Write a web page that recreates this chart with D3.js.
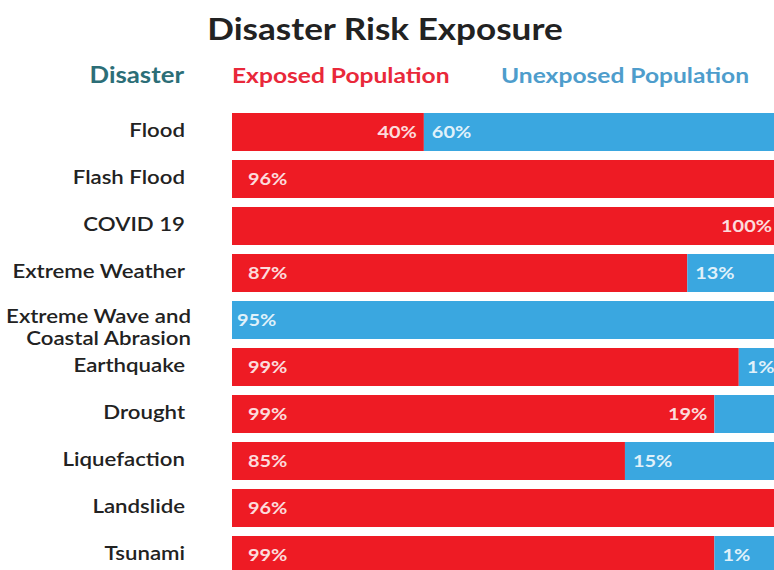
<!DOCTYPE html>
<html>
<head>
<meta charset="utf-8">
<script src="https://cdn.jsdelivr.net/npm/d3@7"></script>
<style>
  html, body { margin: 0; padding: 0; background: #fff; }
  svg { display: block; }
  text { font-family: Lato, "Open Sans", sans-serif; }
</style>
</head>
<body>
<svg id="chart" width="774" height="570"></svg>
<script>
// ---- data ----
const categories = ["Flood", "Flash Flood", "COVID 19", "Extreme Weather", "Extreme Wave and\nCoastal Abrasion",
  "Earthquake", "Drought", "Liquefaction", "Landslide", "Tsunami"];
// drawn length of the red (exposed) segment, as share of the visible bar width
const exposedBar = [35.4, 100, 100, 84, 0, 93.5, 89, 72.5, 100, 89];
// printed labels (as shown on the original infographic)
const exposedLabels = ["40%", "96%", "100%", "87%", "", "99%", "99%", "85%", "96%", "99%"];
const unexposedLabels = ["60%", "", "", "13%", "95%", "1%", "19%", "15%", "", "1%"];
const headers = ["Disaster", "Exposed Population", "Unexposed Population"];
const title = "Disaster Risk Exposure";

// ---- layout ----
const barLeft = 232, barRight = 774;
const svg = d3.select("#chart");
const RED = "#ee1b24", BLUE = "#3aa7e0";
const SX = 1.17; // horizontal stretch of the lettering in the original

const x = d3.scaleLinear().domain([0, 100]).range([barLeft, barRight]);
const y = d3.scaleBand().domain(categories).range([113, 574]).paddingInner(0.1915).paddingOuter(0);

const rows = categories.map((c, i) => ({
  cat: c, exp: exposedBar[i], un: 100 - exposedBar[i],
  expLabel: exposedLabels[i], unLabel: unexposedLabels[i], i
}));

// helper: text stretched horizontally around its anchor point
function stext(px, py, anchor) {
  return svg.append("g").attr("transform", `translate(${px},${py}) scale(${SX},1)`)
    .append("text").attr("x", 0).attr("y", 0).attr("text-anchor", anchor);
}

// title
stext(385, 40, "middle").attr("font-size", 30).attr("font-weight", 700).attr("fill", "#222").text(title);

// headers
const headerX = [[184, "end", "#2c6e77", 22], [232, "start", "#e9283a", 21], [501, "start", "#4e9dcc", 21]];
headers.forEach((h, i) => {
  stext(headerX[i][0], 83, headerX[i][1]).attr("font-size", headerX[i][3]).attr("font-weight", 700)
    .attr("fill", headerX[i][2]).text(h);
});

// bars
const g = svg.append("g");
g.selectAll("rect.exp").data(rows).join("rect").attr("class", "exp")
  .attr("x", x(0)).attr("y", d => y(d.cat))
  .attr("width", d => x(d.exp) - x(0)).attr("height", y.bandwidth()).attr("fill", RED);
g.selectAll("rect.un").data(rows).join("rect").attr("class", "un")
  .attr("x", d => x(d.exp)).attr("y", d => y(d.cat))
  .attr("width", d => x(100) - x(d.exp)).attr("height", y.bandwidth()).attr("fill", BLUE);

// category labels
rows.forEach(d => {
  const lines = d.cat.split("\n");
  const cy = y(d.cat) + y.bandwidth() / 2;
  if (lines.length === 1) {
    stext(185, cy + 5, "end").attr("font-size", 19).attr("font-weight", 600).attr("fill", "#222").text(lines[0]);
  } else {
    lines.forEach((ln, k) => {
      stext(191, cy + 3 + (k === 0 ? 0 : 22), "end").attr("font-size", 19).attr("font-weight", 600)
        .attr("fill", "#222").text(ln);
    });
  }
});

// value labels
const labelStyle = s => s.attr("font-size", 17).attr("font-weight", 700)
  .attr("fill", "rgba(255,255,255,0.85)");
rows.forEach(d => {
  const cy = y(d.cat) + y.bandwidth() / 2 + 6;
  if (d.expLabel) {
    const atEnd = d.cat === "Flood" || d.cat === "COVID 19";
    stext(atEnd ? x(d.exp) - (d.exp >= 100 ? 2 : 7) : x(0) + 16, cy, atEnd ? "end" : "start")
      .call(labelStyle).text(d.expLabel);
  }
  if (d.unLabel) {
    const insideRed = d.cat === "Drought";
    stext(insideRed ? x(d.exp) - 7 : x(d.exp) + (d.exp === 0 ? 5 : 8), cy, insideRed ? "end" : "start")
      .call(labelStyle).text(d.unLabel);
  }
});
</script>
</body>
</html>
